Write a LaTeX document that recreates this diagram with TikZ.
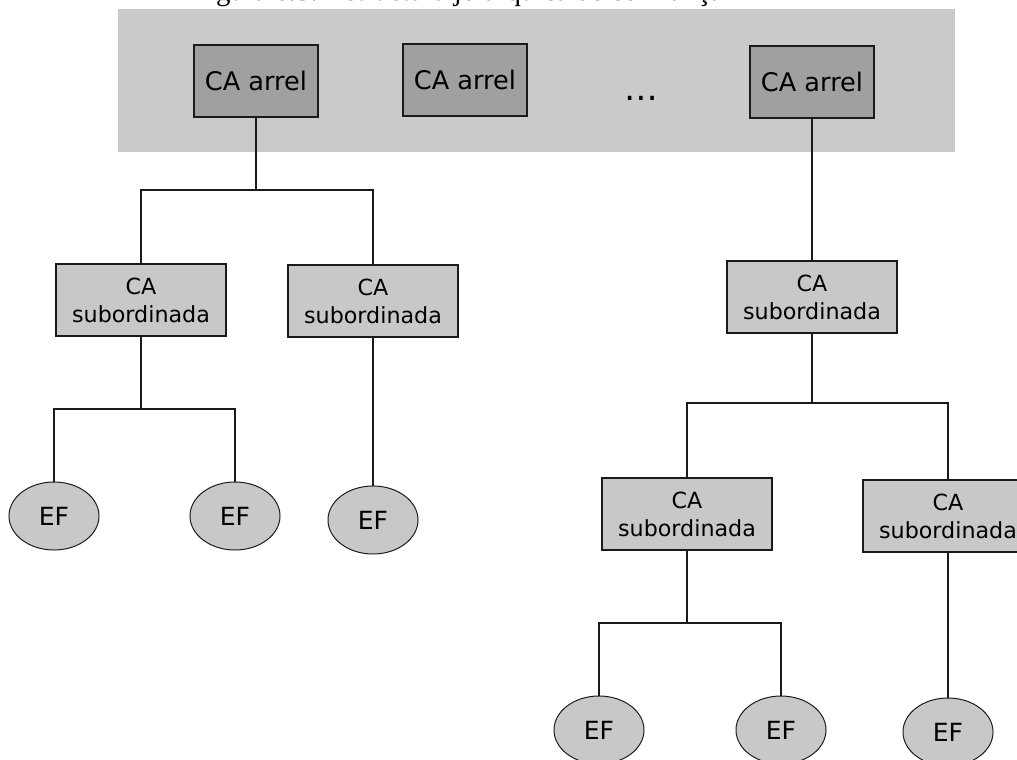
\documentclass[tikz,border=0pt]{standalone}
\usepackage{fontspec}
\setmainfont{Liberation Serif}
\newfontfamily\boxfont{DejaVu Sans}
\usetikzlibrary{shapes.geometric}
\definecolor{BandGray}{RGB}{202,202,202}
\definecolor{RootGray}{RGB}{160,160,160}
\definecolor{SubGray}{RGB}{200,200,200}
\definecolor{EdgeDark}{RGB}{26,26,26}

\begin{document}
\begin{tikzpicture}[
  x=0.025cm, y=-0.025cm,
  root/.style={draw=EdgeDark, line width=0.9pt, fill=RootGray, inner sep=0pt,
    minimum width=3.1cm, minimum height=1.8cm, font=\boxfont\fontsize{18.2}{22}\selectfont},
  sub/.style={draw=EdgeDark, line width=0.9pt, fill=SubGray, inner sep=0pt, align=center,
    minimum width=4.25cm, minimum height=1.8cm, font=\boxfont\fontsize{15.8}{19.9}\selectfont},
  leaf/.style={ellipse, draw=EdgeDark, line width=0.7pt, fill=SubGray, inner sep=0pt,
    minimum width=2.25cm, minimum height=1.7cm, font=\boxfont\fontsize{17.8}{21}\selectfont},
  link/.style={draw=EdgeDark, line width=0.9pt},
  trunk/.style={draw=EdgeDark, line width=1.3pt}
]
\clip (0,0) rectangle (1017,760);
\node[anchor=base west, font=\fontsize{20.5}{24}\selectfont] (caption) at (187,1)
  {Figura 6.3: Estructura jeràrquica de confiança};
\fill[BandGray] (118,9) rectangle (955,152);
% roots
\node[root] (arrelA) at (256,81) {CA arrel};
\node[root] (arrelB) at (465,80) {CA arrel};
\node[anchor=base, font=\boxfont\fontsize{24}{28}\selectfont] (dots) at (641,101) {…};
\node[root] (arrelC) at (812,82) {CA arrel};
% left tree
\node[sub] (subA) at (141,300) {CA\\subordinada};
\node[sub] (subB) at (373,301) {CA\\subordinada};
\node[leaf] (efA) at (54,516) {EF};
\node[leaf] (efB) at (235,516) {EF};
\node[leaf] (efC) at (373,520) {EF};
% right tree
\node[sub] (subR) at (812,297) {CA\\subordinada};
\node[sub] (subC) at (687,514) {CA\\subordinada};
\node[sub] (subD) at (948,516) {CA\\subordinada};
\node[leaf] (efD) at (599,730) {EF};
\node[leaf] (efE) at (781,730) {EF};
\node[leaf] (efF) at (948,732) {EF};
\coordinate (barA) at (256,190);
\coordinate (barB) at (141,409);
\coordinate (barR) at (812,403);
\coordinate (barC) at (687,623);
% connectors
\draw[link] (arrelA.south) -- (barA);
\draw[link] (subA.north) |- (barA) -| (subB.north);
\draw[link] (subA.south) -- (barB);
\draw[link] (efA.north) |- (barB) -| (efB.north);
\draw[trunk] (subB.south) -- (efC.north);
\draw[trunk] (arrelC.south) -- (subR.north);
\draw[link] (subR.south) -- (barR);
\draw[link] (subC.north) |- (barR) -| (subD.north);
\draw[link] (subC.south) -- (barC);
\draw[link] (efD.north) |- (barC) -| (efE.north);
\draw[trunk] (subD.south) -- (efF.north);
\end{tikzpicture}
\end{document}
